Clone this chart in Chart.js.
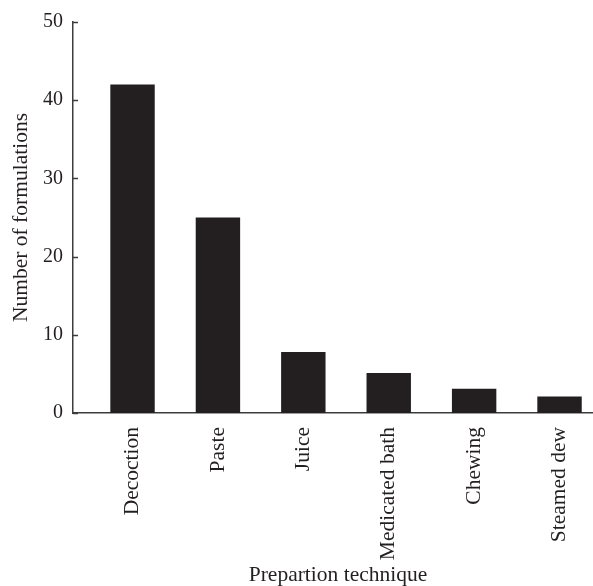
<!DOCTYPE html>
<html>
<head>
<meta charset="utf-8">
<script src="https://cdn.jsdelivr.net/npm/chart.js@4/dist/chart.umd.min.js"></script>
<style>
  html, body { margin: 0; padding: 0; background: #fff; overflow: hidden; }
  #wrap { width: 593px; height: 586px; overflow: hidden; }
</style>
</head>
<body>
<div id="wrap"><canvas id="myChart" width="603" height="586"></canvas></div>
<script>
var categories = ["Decoction", "Paste", "Juice", "Medicated bath", "Chewing", "Steamed dew"];
var formulations = [42, 25, 7.8, 5.1, 3.1, 2.1];
var yTicks = [0, 10, 20, 30, 40, 50];

var ink = "#231f20";
var axisColor = "#3c3c3c";
var serif = "'Liberation Serif', 'DejaVu Serif', serif";

function toPoints(values) {
  return values.map(function (v, i) {
    return { x: i, y: v };
  });
}

// small tick marks drawn inside the plot, like the original figure
var innerTicks = {
  id: "innerTicks",
  afterDraw: function (chart) {
    var ctx = chart.ctx;
    var y = chart.scales.y;
    var left = chart.chartArea.left;
    ctx.save();
    ctx.strokeStyle = axisColor;
    ctx.lineWidth = 1.5;
    y.ticks.forEach(function (t) {
      var py = Math.round(y.getPixelForValue(t.value)) + 0.5;
      ctx.beginPath();
      ctx.moveTo(left, py);
      ctx.lineTo(left + 5, py);
      ctx.stroke();
    });
    ctx.restore();
  }
};

var ctx = document.getElementById("myChart");
var myChart = new Chart(ctx, {
  type: "bar",
  data: {
    datasets: [{
      data: toPoints(formulations),
      backgroundColor: ink,
      borderWidth: 0,
      barPercentage: 0.52,
      categoryPercentage: 1
    }]
  },
  plugins: [innerTicks],
  options: {
    responsive: false,
    animation: false,
    layout: { padding: { top: 19, left: 0, right: 0, bottom: 0 } },
    plugins: {
      legend: { display: false },
      tooltip: { enabled: false }
    },
    scales: {
      x: {
        type: "linear",
        offset: false,
        min: -0.697,
        max: 5.509,
        grid: { display: false, drawTicks: false },
        border: { display: true, color: axisColor, width: 1.5 },
        afterBuildTicks: function (scale) {
          scale.ticks = categories.map(function (c, i) { return { value: i }; });
        },
        afterFit: function (scale) {
          scale.height = 173;
          scale.paddingLeft = 0;
          scale.paddingRight = 0;
        },
        ticks: {
          autoSkip: false,
          minRotation: 90,
          maxRotation: 90,
          padding: 14,
          color: ink,
          font: { family: serif, size: 21.5 },
          callback: function (value) { return categories[value]; }
        },
        title: {
          display: true,
          text: "Prepartion technique",
          color: ink,
          font: { family: serif, size: 21.5, lineHeight: 1 },
          padding: { top: 0, bottom: 0 }
        }
      },
      y: {
        min: 0,
        max: 50,
        grid: { display: false, drawTicks: false },
        border: { display: true, color: axisColor, width: 1.5 },
        afterBuildTicks: function (scale) {
          scale.ticks = yTicks.map(function (v) { return { value: v }; });
        },
        afterFit: function (scale) { scale.width = 73; },
        ticks: {
          padding: 10,
          color: ink,
          font: { family: serif, size: 20 }
        },
        title: {
          display: true,
          text: "Number of formulations",
          color: ink,
          font: { family: serif, size: 21.5, lineHeight: 1.2 },
          padding: { top: 8, bottom: 0 }
        }
      }
    }
  }
});
</script>
</body>
</html>
